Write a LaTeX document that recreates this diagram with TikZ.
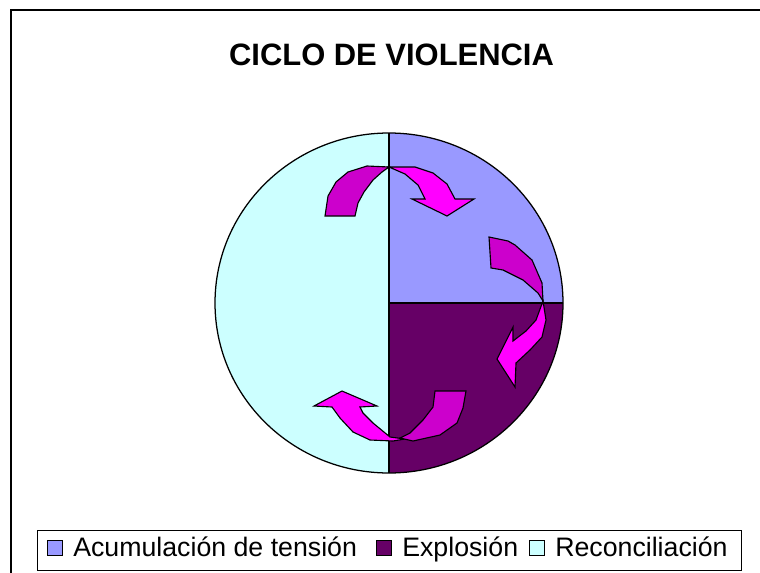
\documentclass[tikz,border=0pt]{standalone}
\usepackage{fontspec}
\setmainfont{Liberation Sans}
\usepackage{xcolor}
\usepackage{tikz}
\usetikzlibrary{positioning}
\definecolor{acumblue}{RGB}{153,153,255}
\definecolor{explpurple}{RGB}{102,0,102}
\definecolor{reconcyan}{RGB}{204,255,255}
\definecolor{arrowdark}{RGB}{204,0,204}
\definecolor{arrowlight}{RGB}{255,0,255}

\begin{document}
\begin{tikzpicture}[x=0.025cm, y=-0.025cm,
    every node/.style={inner sep=0pt},
    slice/.style={draw=black, line width=0.9pt},
    curvearrow/.style={draw=black, line width=0.8pt, line join=miter},
    legkey/.style={draw=black, line width=0.6pt, minimum size=11pt},
    legtext/.style={font=\fontsize{19}{21}\selectfont, anchor=base west}]
\useasboundingbox (0,0) rectangle (760,572);
\clip (0,0) rectangle (760,572);
% --- chart frame (runs off the right and bottom edges) ---
\draw[line width=1.4pt] (11,10) rectangle (790,600);
% --- title ---
\node[font=\bfseries\fontsize{22}{24}\selectfont, anchor=base] (title) at (391.5,65) {CICLO DE VIOLENCIA};

% --- pie: centre (389,303), radii 174/170 ---
\coordinate (c) at (389,303);
\fill[acumblue] (c) -- +(0,-170) arc[start angle=-90, end angle=0, x radius=174, y radius=170] -- cycle;
\fill[explpurple] (c) -- +(174,0) arc[start angle=0, end angle=90, x radius=174, y radius=170] -- cycle;
\fill[reconcyan] (c) -- +(0,170) arc[start angle=90, end angle=270, x radius=174, y radius=170] -- cycle;
\draw[slice] (c) ellipse[x radius=174, y radius=170];
\draw[slice] (389,133) -- (c) -- (563,303);
\draw[slice] (c) -- (389,473);

% --- top arrow: Reconciliacion -> Acumulacion ---
\filldraw[curvearrow, fill=arrowdark] (389,167) -- (367,166) -- (348,172) -- (336,182)
    -- (328,196) -- (325,216) -- (355,216) -- (358,203) -- (364,192) -- (373,180)
    -- (382,172) -- cycle;
\filldraw[curvearrow, fill=arrowlight] (389,167) -- (415,167) -- (433,173) -- (447,184)
    -- (455,199) -- (474,199) -- (447,216) -- (412,199) -- (425,199) -- (418,185)
    -- (405,174) -- cycle;

% --- right arrow: Acumulacion -> Explosion ---
\filldraw[curvearrow, fill=arrowdark] (489,237) -- (508,241) -- (515,245) -- (532,260)
    -- (542,283) -- (543,301) -- (538,293) -- (523,280) -- (503,270) -- (491,268) -- cycle;
\filldraw[curvearrow, fill=arrowlight] (543,301) -- (546,320) -- (542,337) -- (530,350)
    -- (516,363) -- (515,387) -- (497,359) -- (513,327) -- (513,341) -- (526,331)
    -- (536,320) -- cycle;

% --- bottom arrow: Explosion -> Reconciliacion ---
\filldraw[curvearrow, fill=arrowlight] (405,439) -- (393,441) -- (370,440) -- (353,432)
    -- (340,418) -- (332,407) -- (314,406) -- (342,391) -- (377,406) -- (360,407)
    -- (363,413) -- (373,423) -- (390,437) -- cycle;
\filldraw[curvearrow, fill=arrowdark] (400,438) -- (410,433) -- (423,420) -- (433,407)
    -- (435,391) -- (466,391) -- (463,408) -- (457,423) -- (440,435) -- (413,441) -- cycle;

% --- legend ---
\draw[line width=0.6pt] (37,530) rectangle (741,570);
\node[legkey, fill=acumblue] (keyacum) at (55,548) {};
\node[legtext] (txtacum) at (73,556) {Acumulación de tensión};
\node[legkey, fill=explpurple] (keyexpl) at (384,548) {};
\node[legtext] (txtexpl) at (402,556) {Explosión};
\node[legkey, fill=reconcyan] (keyrecon) at (537,548) {};
\node[legtext] (txtrecon) at (555,556) {Reconciliación};
\end{tikzpicture}
\end{document}
